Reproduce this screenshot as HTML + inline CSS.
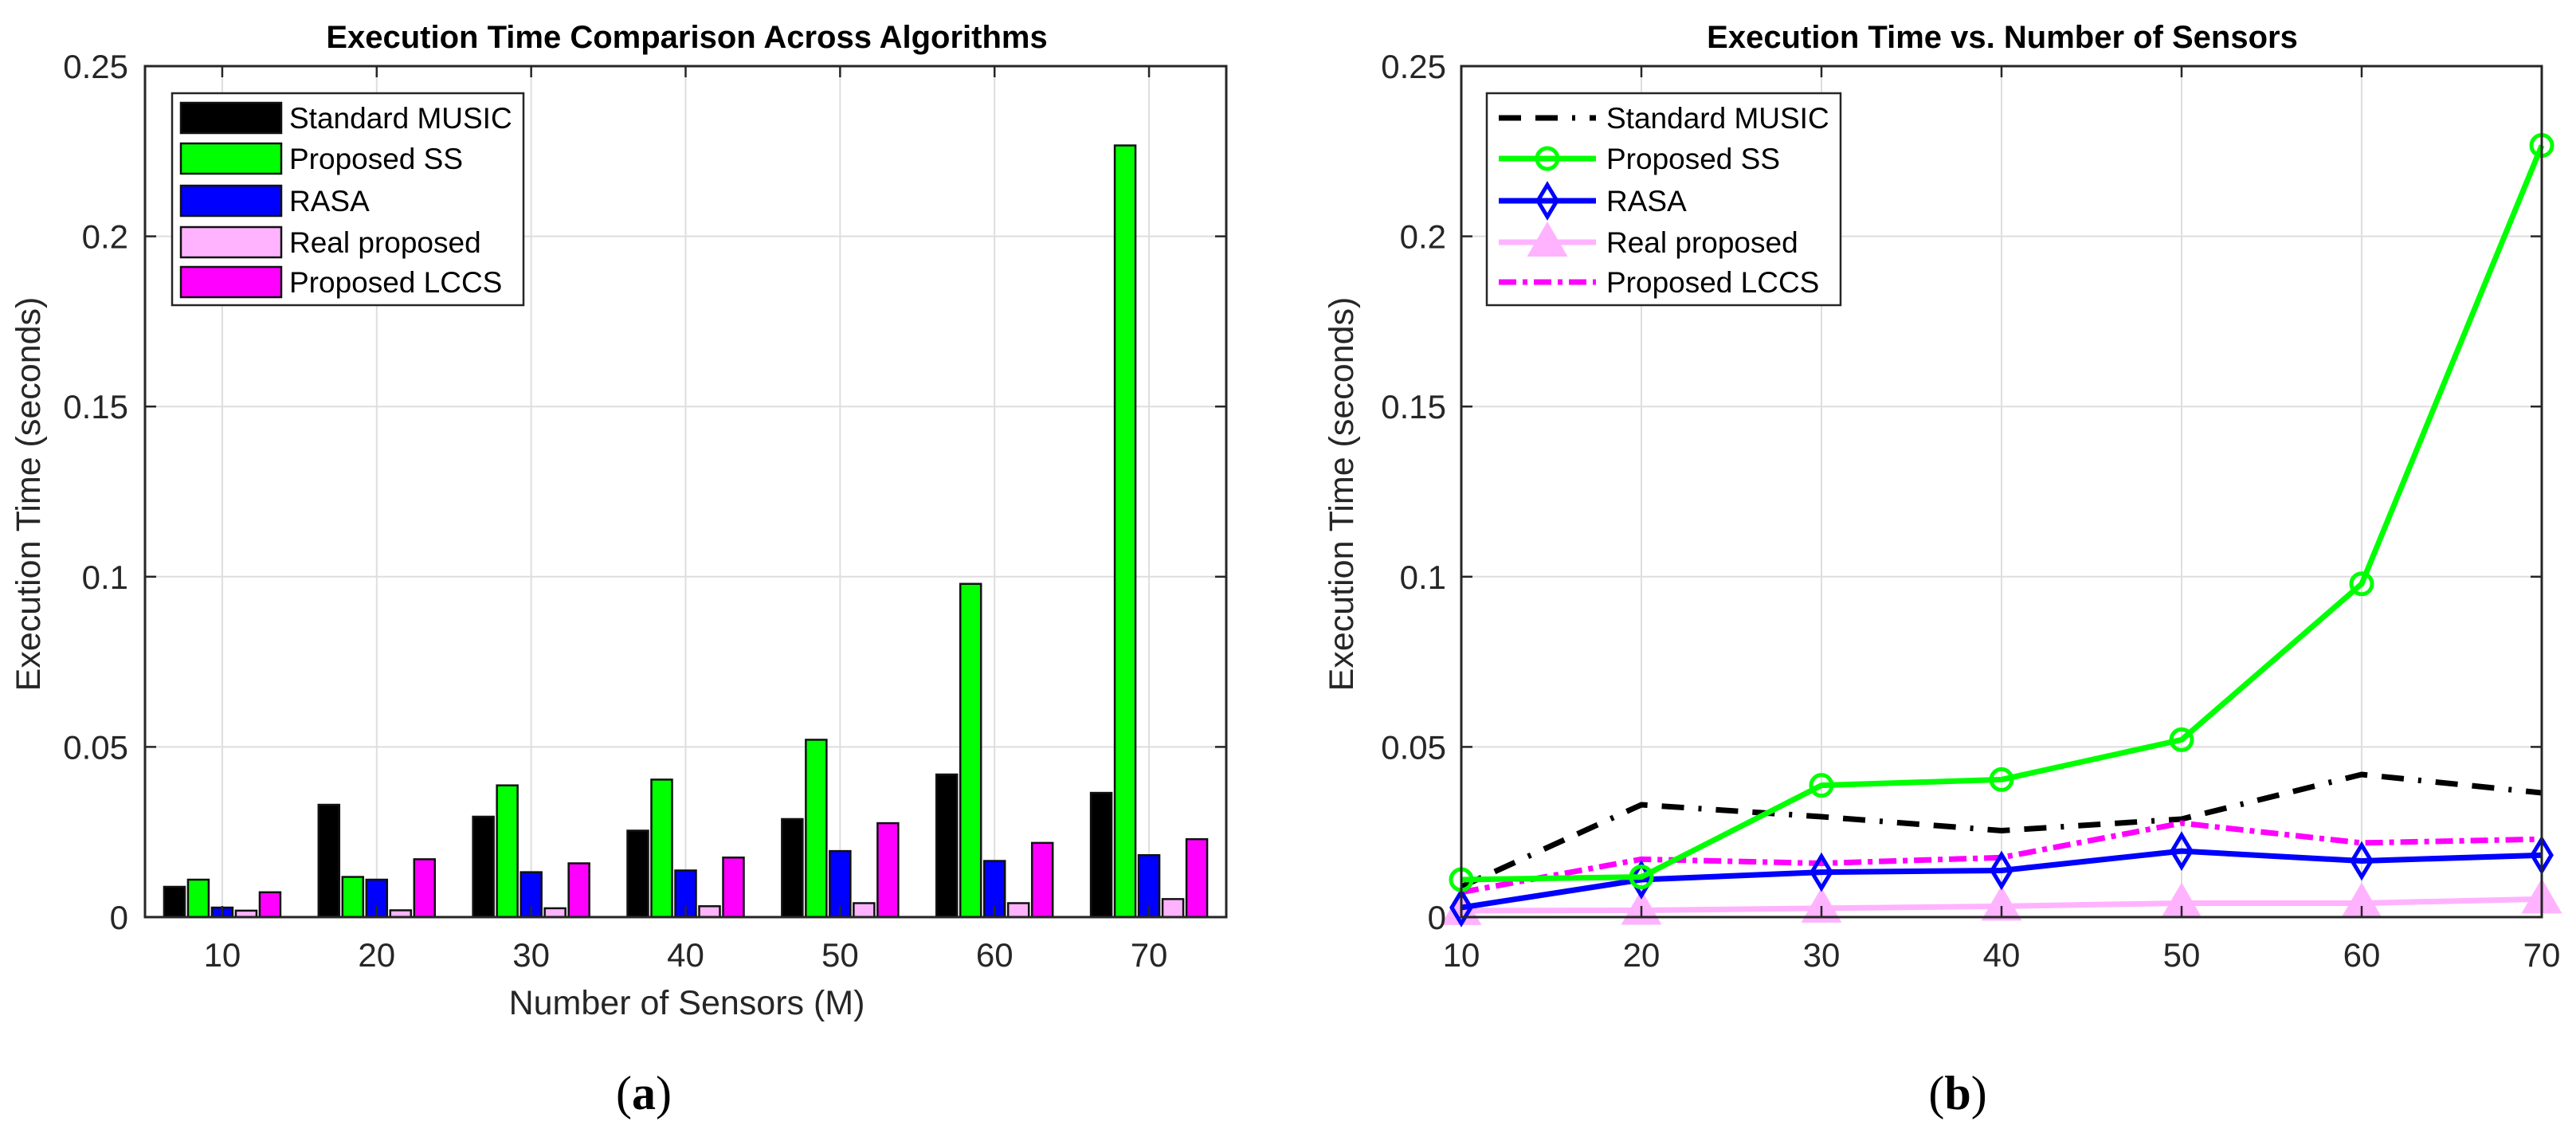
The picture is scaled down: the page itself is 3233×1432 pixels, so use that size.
<!DOCTYPE html>
<html><head><meta charset="utf-8">
<style>
html,body{margin:0;padding:0;background:#fff;}
svg{display:block;font-family:"Liberation Sans",sans-serif;}
</style></head>
<body>
<svg id="fig" width="3233" height="1432" viewBox="0 0 3233 1432" xmlns="http://www.w3.org/2000/svg">
<rect width="3233" height="1432" fill="#fff"/>
<g id="left"></g>
<g id="right"></g>
</svg>
<script>
const sensors = [10, 20, 30, 40, 50, 60, 70];
const standardMusic = [0.0089, 0.033, 0.0295, 0.0254, 0.0288, 0.0419, 0.0365];
const proposedSS = [0.011, 0.0118, 0.0387, 0.0404, 0.0521, 0.0979, 0.2267];
const rasa = [0.0028, 0.011, 0.0132, 0.0137, 0.0194, 0.0165, 0.0182];
const realProposed = [0.0019, 0.002, 0.0026, 0.0032, 0.0041, 0.0041, 0.0053];
const proposedLCCS = [0.0073, 0.017, 0.0158, 0.0175, 0.0276, 0.0218, 0.0229];
const seriesNames = ["Standard MUSIC", "Proposed SS", "RASA", "Real proposed", "Proposed LCCS"];
const yTicks = [0, 0.05, 0.1, 0.15, 0.2, 0.25];
const yTickLabels = ["0", "0.05", "0.1", "0.15", "0.2", "0.25"];
const xTickLabels = ["10", "20", "30", "40", "50", "60", "70"];

const NS = "http://www.w3.org/2000/svg";
function mk(parent, tag, attrs, text) {
  const e = document.createElementNS(NS, tag);
  for (const k in attrs) e.setAttribute(k, attrs[k]);
  if (text !== undefined) e.textContent = text;
  parent.appendChild(e);
  return e;
}
const allSeries = [standardMusic, proposedSS, rasa, realProposed, proposedLCCS];
const barColors = ["#000000", "#00ff00", "#0000ff", "#ffb3ff", "#ff00ff"];
const TOP = 83, BOT = 1151, YMAX = 0.25;
function yS(v) { return BOT - v / YMAX * (BOT - TOP); }

function axesFrame(g, L, R, xS) {
  yTicks.forEach((t, i) => {
    if (i > 0 && i < yTicks.length - 1) {
      const gl = mk(g, "line", {x1: L, x2: R, y1: yS(t), y2: yS(t), stroke: "#dedede", "stroke-width": 2});
      
      
    }
  });
  sensors.forEach(s => {
    const x = xS(s);
    if (x > L + 2 && x < R - 2) {
      const gl = mk(g, "line", {x1: x, x2: x, y1: TOP, y2: BOT, stroke: "#dedede", "stroke-width": 2});
      
      
    }
  });
}
function axesBox(g, L, R, xS, xTickY, ylabX, ylabY, titleX, title, yTickX) {
  const box = mk(g, "rect", {x: L, y: TOP, width: R - L, height: BOT - TOP, fill: "none", stroke: "#262626", "stroke-width": 3});
  
  
  yTicks.forEach((t, i) => {
    const y = yS(t);
    mk(g, "line", {x1: L, x2: L + 14, y1: y, y2: y, stroke: "#262626", "stroke-width": 2.5});
    mk(g, "line", {x1: R, x2: R - 14, y1: y, y2: y, stroke: "#262626", "stroke-width": 2.5});
    const tl = mk(g, "text", {x: yTickX, y: y + 15, "text-anchor": "end", "font-size": 42, fill: "#262626"}, yTickLabels[i]);
    
    
  });
  sensors.forEach((s, i) => {
    const x = xS(s);
    mk(g, "line", {x1: x, x2: x, y1: BOT, y2: BOT - 14, stroke: "#262626", "stroke-width": 2.5});
    mk(g, "line", {x1: x, x2: x, y1: TOP, y2: TOP + 14, stroke: "#262626", "stroke-width": 2.5});
    const tl = mk(g, "text", {x: x, y: xTickY, "text-anchor": "middle", "font-size": 42, fill: "#262626"}, xTickLabels[i]);
    
    
  });
  const yl = mk(g, "text", {x: ylabX, y: ylabY, "text-anchor": "middle", "font-size": 43, fill: "#262626", transform: `rotate(-90 ${ylabX} ${ylabY})`}, "Execution Time (seconds)");
  
  
  const tt = mk(g, "text", {x: titleX, y: 60, "text-anchor": "middle", "font-size": 40, "font-weight": "bold", fill: "#000"}, title);
  
  
}

// ---- Left bar chart ----
const gL = document.getElementById("left");
const LL = 182, LR = 1539;
function xL(s) { return LL + (s - 5) * (LR - LL) / 70; }
axesFrame(gL, LL, LR, xL);
const barW = 26, barStep = 30;
allSeries.forEach((ser, k) => {
  ser.forEach((v, i) => {
    const cx = xL(sensors[i]) + (k - 2) * barStep;
    const b = mk(gL, "rect", {x: cx - barW / 2, y: yS(v), width: barW, height: BOT - yS(v), fill: barColors[k], stroke: "#111", "stroke-width": 2.5});
    
    
  });
});
axesBox(gL, LL, LR, xL, 1213, 50, 620, 862, "Execution Time Comparison Across Algorithms", 161);
const xlab = mk(gL, "text", {x: 862, y: 1273, "text-anchor": "middle", "font-size": 43, fill: "#262626"}, "Number of Sensors (M)");


const legL = mk(gL, "g", {});


mk(legL, "rect", {x: 216, y: 117, width: 441, height: 266, fill: "#fff", stroke: "#262626", "stroke-width": 2.5});
const rowsY = [148, 199, 252, 304, 354];
seriesNames.forEach((n, k) => {
  const e = mk(legL, "g", {});
  
  
  mk(e, "rect", {x: 227, y: rowsY[k] - 19, width: 126, height: 38, fill: barColors[k], stroke: "#111", "stroke-width": 2.5});
  mk(e, "text", {x: 363, y: rowsY[k] + 13, "font-size": 37, fill: "#000"}, n);
});
const la = mk(gL, "text", {x: 808, y: 1392, "text-anchor": "middle", "font-size": 60, "font-family": "Liberation Serif, serif", fill: "#000"}, "(a)");


la.innerHTML = '(<tspan font-weight="bold">a</tspan>)';

// ---- Right line chart ----
const gR = document.getElementById("right");
const RL = 1834, RR = 3190;
function xR(s) { return RL + (s - 10) * (RR - RL) / 60; }
axesFrame(gR, RL, RR, xR);
const lineColors = ["#000000", "#00ff00", "#0000ff", "#ffb3ff", "#ff00ff"];
const dashes = ["28 18 28 18 4 18", "", "", "", "22 8 6 8"];
function marker(g, k, x, y) {
  if (k === 1) mk(g, "circle", {cx: x, cy: y, r: 13, fill: "none", stroke: lineColors[k], "stroke-width": 5});
  if (k === 2) mk(g, "path", {d: `M${x} ${y-20} L${x+12} ${y} L${x} ${y+20} L${x-12} ${y} Z`, fill: "none", stroke: lineColors[k], "stroke-width": 5});
  if (k === 3) mk(g, "path", {d: `M${x} ${y-22} L${x+22} ${y+16} L${x-22} ${y+16} Z`, fill: lineColors[k], stroke: lineColors[k], "stroke-width": 4});
}
const order = [3, 0, 4, 2, 1];
order.forEach(k => {
  const ser = allSeries[k];
  const g = mk(gR, "g", {});
  
  
  const pts = ser.map((v, i) => xR(sensors[i]) + "," + yS(v)).join(" ");
  const a = {points: pts, fill: "none", stroke: lineColors[k], "stroke-width": 7, "stroke-linejoin": "round"};
  if (dashes[k]) a["stroke-dasharray"] = dashes[k];
  mk(g, "polyline", a);
  ser.forEach((v, i) => marker(g, k, xR(sensors[i]), yS(v)));
});
axesBox(gR, RL, RR, xR, 1213, 1698, 620, 2513, "Execution Time vs. Number of Sensors", 1815);
const legR = mk(gR, "g", {});


mk(legR, "rect", {x: 1866, y: 117, width: 444, height: 266, fill: "#fff", stroke: "#262626", "stroke-width": 2.5});
seriesNames.forEach((n, k) => {
  const e = mk(legR, "g", {});
  
  
  const a = {x1: 1881, x2: 2003, y1: rowsY[k], y2: rowsY[k], stroke: lineColors[k], "stroke-width": 7};
  if (dashes[k]) a["stroke-dasharray"] = dashes[k];
  mk(e, "line", a);
  marker(e, k, 1942, rowsY[k]);
  mk(e, "text", {x: 2016, y: rowsY[k] + 13, "font-size": 37, fill: "#000"}, n);
});
const lb = mk(gR, "text", {x: 2457, y: 1392, "text-anchor": "middle", "font-size": 60, "font-family": "Liberation Serif, serif", fill: "#000"}, "(b)");


lb.innerHTML = '(<tspan font-weight="bold">b</tspan>)';
</script>
</body></html>
